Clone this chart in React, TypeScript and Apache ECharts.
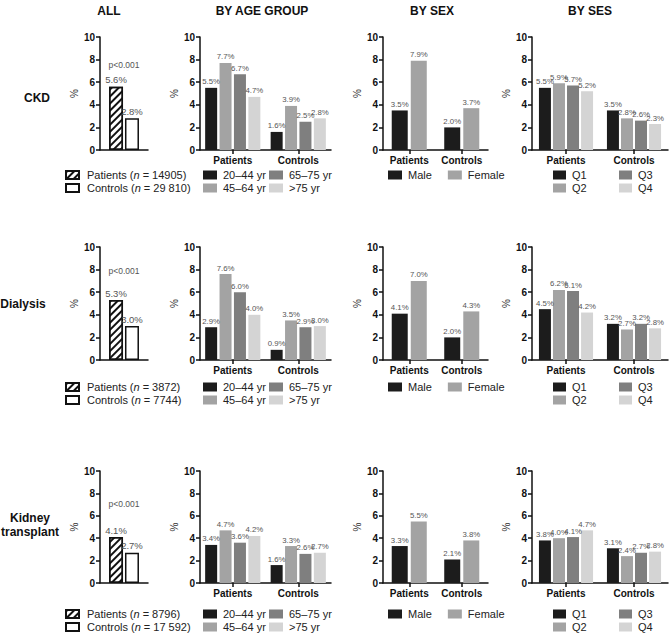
import React, { useEffect, useRef } from 'react';
import * as echarts from 'echarts';

const groups = ['Patients', 'Controls'];
const ageGroups = ['20–44 yr', '45–64 yr', '65–75 yr', '>75 yr'];
const sexGroups = ['Male', 'Female'];
const sesGroups = ['Q1', 'Q2', 'Q3', 'Q4'];
const columnTitles = ['ALL', 'BY AGE GROUP', 'BY SEX', 'BY SES'];
const outcomes = ['CKD', 'Dialysis', 'Kidney\ntransplant'];
const yTicks = [0, 2, 4, 6, 8, 10];

const patientsN = ['14905', '3872', '8796'];
const controlsN = ['29 810', '7744', '17 592'];
const allPatients = [5.6, 5.3, 4.1];
const allControls = [2.8, 3.0, 2.7];
const pValues = ['p<0.001', 'p<0.001', 'p<0.001'];

// each entry: [Patients, Controls] for one subgroup
const ckdAge = [[5.5, 1.6], [7.7, 3.9], [6.7, 2.5], [4.7, 2.8]];
const ckdSex = [[3.5, 2.0], [7.9, 3.7]];
const ckdSes = [[5.5, 3.5], [5.9, 2.8], [5.7, 2.6], [5.2, 2.3]];
const dialysisAge = [[2.9, 0.9], [7.6, 3.5], [6.0, 2.9], [4.0, 3.0]];
const dialysisSex = [[4.1, 2.0], [7.0, 4.3]];
const dialysisSes = [[4.5, 3.2], [6.2, 2.7], [6.1, 3.2], [4.2, 2.8]];
const transplantAge = [[3.4, 1.6], [4.7, 3.3], [3.6, 2.6], [4.2, 2.7]];
const transplantSex = [[3.3, 2.1], [5.5, 3.8]];
const transplantSes = [[3.8, 3.1], [4.0, 2.4], [4.1, 2.7], [4.7, 2.8]];

const ageRows = [ckdAge, dialysisAge, transplantAge];
const sexRows = [ckdSex, dialysisSex, transplantSex];
const sesRows = [ckdSes, dialysisSes, transplantSes];

const FONT = '"Liberation Sans", Arial, Helvetica, sans-serif';
const greyColors = ['#1c1c1c', '#a3a3a3', '#7f7f7f', '#d4d4d4'];

// layout
const rowTop = [37, 247, 471];
const rowH = [113, 113, 112];
const cols = [
  { left: 100, width: 48 },
  { left: 200, width: 131 },
  { left: 383, width: 105 },
  { left: 532, width: 136 },
];
const legendY = [175, 387, 614];
const titleX = [109, 262, 432, 590];
const rowLabelPos = [
  { x: 37, y: 98 },
  { x: 23, y: 304 },
  { x: 30, y: 525 },
];
const pY = [65, 271, 504];

function buildOption() {
  const grid: any[] = [];
  const xAxis: any[] = [];
  const yAxis: any[] = [];
  const series: any[] = [];
  const legend: any[] = [];
  const graphic: any[] = [];

  const axisLine = { show: true, lineStyle: { color: '#111', width: 1.5 } };

  const dataLabel = (size: number) => ({
    show: true,
    position: 'top',
    distance: 2,
    fontSize: size,
    color: '#555',
    fontFamily: FONT,
    formatter: (p: any) => Number(p.value).toFixed(1) + '%',
  });

  for (let r = 0; r < 3; r++) {
    for (let c = 0; c < 4; c++) {
      const gi = r * 4 + c;
      grid.push({ left: cols[c].left, width: cols[c].width, top: rowTop[r], height: rowH[r], containLabel: false });
      xAxis.push({
        type: 'category',
        gridIndex: gi,
        data: c === 0 ? [''] : groups,
        axisLine,
        axisTick: { show: c !== 0, alignWithLabel: true, length: 4, lineStyle: { color: '#111', width: 1.5 } },
        axisLabel: { show: c !== 0, interval: 0, fontSize: 10, fontWeight: 'bold', color: '#111', margin: 5, fontFamily: FONT },
      });
      yAxis.push({
        type: 'value',
        gridIndex: gi,
        min: yTicks[0],
        max: yTicks[yTicks.length - 1],
        interval: 2,
        name: '%',
        nameLocation: 'middle',
        nameGap: 16,
        nameRotate: 90,
        nameTextStyle: { fontSize: 10, color: '#333', fontFamily: FONT },
        axisLine,
        axisTick: { show: true, length: 4, lineStyle: { color: '#111', width: 1.5 } },
        axisLabel: { fontSize: 10, fontWeight: 'bold', color: '#111', margin: 5, fontFamily: FONT },
        splitLine: { show: false },
      });
    }

    // ALL
    const g0 = r * 4;
    const pName = `Patients (n = ${patientsN[r]})`;
    const cName = `Controls (n = ${controlsN[r]})`;
    series.push({
      type: 'bar',
      name: pName,
      xAxisIndex: g0,
      yAxisIndex: g0,
      data: [allPatients[r]],
      barWidth: 14,
      barGap: '14%',
      itemStyle: {
        color: '#ffffff',
        borderColor: '#111',
        borderWidth: 1.5,
        decal: {
          symbol: 'rect',
          symbolSize: 1,
          dashArrayX: [1, 0],
          dashArrayY: [2, 2.5],
          rotation: -Math.PI / 4,
          color: '#111',
          backgroundColor: '#ffffff',
        },
      },
      label: dataLabel(9.5),
    });
    series.push({
      type: 'bar',
      name: cName,
      xAxisIndex: g0,
      yAxisIndex: g0,
      data: [allControls[r]],
      barWidth: 14,
      barGap: '14%',
      itemStyle: { color: '#ffffff', borderColor: '#111', borderWidth: 1.5 },
      label: dataLabel(9.5),
    });
    legend.push({
      orient: 'vertical',
      left: 65,
      top: legendY[r] - 6.5,
      padding: 0,
      itemWidth: 13,
      itemHeight: 8,
      itemGap: 0,
      icon: 'rect',
      selectedMode: false,
      data: [pName, cName],
      formatter: (name: string) => name.replace('(n', '({i|n}'),
      textStyle: {
        fontSize: 11,
        lineHeight: 13,
        color: '#222',
        fontFamily: FONT,
        padding: [0, 0, 0, 3],
        rich: { i: { fontStyle: 'italic', fontSize: 11, color: '#222', fontFamily: FONT } },
      },
    });
    graphic.push({
      type: 'text',
      x: cols[0].left + cols[0].width / 2,
      y: pY[r],
      style: { text: pValues[r], fontSize: 8.5, fill: '#555', fontFamily: FONT, align: 'center', verticalAlign: 'middle' },
    });

    const addGroupSeries = (gi: number, names: string[], rows: number[][], bw: number, gap: string) => {
      names.forEach((n, k) => {
        series.push({
          type: 'bar',
          name: n,
          xAxisIndex: gi,
          yAxisIndex: gi,
          data: rows[k],
          barWidth: bw,
          barGap: gap,
          itemStyle: { color: greyColors[k] },
          label: dataLabel(7.8),
        });
      });
    };
    addGroupSeries(r * 4 + 1, ageGroups, ageRows[r], 12, '20%');
    addGroupSeries(r * 4 + 2, sexGroups, sexRows[r], 16, '19%');
    addGroupSeries(r * 4 + 3, sesGroups, sesRows[r], 12, '17%');

    const legBase = {
      orient: 'vertical',
      top: legendY[r] - 6.5,
      height: 40,
      padding: 0,
      itemWidth: 14,
      itemHeight: 9,
      itemGap: 0,
      icon: 'rect',
      selectedMode: false,
      textStyle: { fontSize: 11, lineHeight: 13, color: '#222', fontFamily: FONT, padding: [0, 0, 0, 1] },
    };
    legend.push({ ...legBase, left: 203, data: [ageGroups[0], ageGroups[1]] });
    legend.push({ ...legBase, left: 269, data: [ageGroups[2], ageGroups[3]] });
    legend.push({ ...legBase, orient: 'horizontal', left: 388, itemGap: 16, data: sexGroups });
    legend.push({ ...legBase, itemWidth: 13, left: 553, data: [sesGroups[0], sesGroups[1]] });
    legend.push({ ...legBase, itemWidth: 13, left: 619, data: [sesGroups[2], sesGroups[3]] });

    graphic.push({
      type: 'text',
      x: rowLabelPos[r].x,
      y: rowLabelPos[r].y,
      style: {
        text: outcomes[r],
        fontSize: 12,
        fontWeight: 'bold',
        fill: '#111',
        fontFamily: FONT,
        align: 'center',
        verticalAlign: 'middle',
        lineHeight: 14,
      },
    });
  }

  columnTitles.forEach((t, i) => {
    graphic.push({
      type: 'text',
      x: titleX[i],
      y: 11,
      style: { text: t, fontSize: 12, fontWeight: 'bold', fill: '#111', fontFamily: FONT, align: 'center', verticalAlign: 'middle' },
    });
  });

  return {
    animation: false,
    backgroundColor: '#ffffff',
    textStyle: { fontFamily: FONT },
    grid,
    xAxis,
    yAxis,
    series,
    legend,
    graphic,
  };
}

export default function App() {
  const ref = useRef<HTMLDivElement>(null);
  useEffect(() => {
    if (!ref.current) return;
    const chart = echarts.init(ref.current, undefined, { renderer: 'svg' });
    chart.setOption(buildOption() as any);
    return () => chart.dispose();
  }, []);
  return (
    <div
      ref={ref}
      style={{ position: 'absolute', left: 0, top: 0, width: 669, height: 635, background: '#fff' }}
    />
  );
}
